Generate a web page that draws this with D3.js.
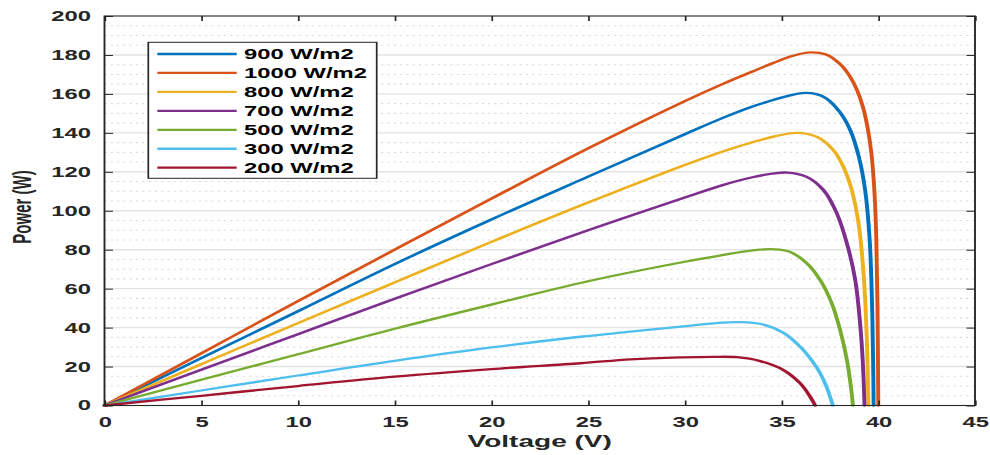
<!DOCTYPE html>
<html>
<head>
<meta charset="utf-8">
<script src="https://cdn.jsdelivr.net/npm/d3@7"></script>
<style>
  html, body { margin: 0; padding: 0; background: #fff; overflow: hidden; }
  svg text { font-family: "Liberation Sans", Arial, Helvetica, sans-serif; }
</style>
</head>
<body>
<svg id="chart" width="990" height="455"></svg>
<script>
// P-V characteristics of a PV module at several irradiance levels
const seriesLabels = ["900 W/m2", "1000 W/m2", "800 W/m2", "700 W/m2", "500 W/m2", "300 W/m2", "200 W/m2"];
const seriesColors = ["#0072BD", "#D95319", "#EDB120", "#7E2F8E", "#77AC30", "#4DBEEE", "#A2142F"];

const volt900  = [0, 5, 10, 15, 20, 25, 30, 32, 33.5, 34.6, 35.5, 36.2, 36.8, 37.3, 38.0, 38.55, 39.0, 39.32, 39.55, 39.67, 39.73, 39.76];
const power900 = [0, 24.3, 48.4, 72.6, 95.5, 117.5, 139.3, 147.8, 153.5, 157.0, 159.4, 160.5, 159.9, 157.8, 150.8, 141.4, 127.5, 110.6, 86.0, 55.0, 25.0, 0];

const volt1000  = [0, 5, 10, 15, 20, 25, 30, 32, 33.5, 34.6, 35.6, 36.5, 37.3, 38.0, 38.5, 38.9, 39.2, 39.45, 39.65, 39.8, 39.9, 39.96, 40.0];
const power1000 = [0, 26.8, 53.6, 80.0, 106.2, 132.0, 156.3, 165.3, 171.5, 176.0, 179.6, 181.3, 180.2, 175.5, 169.5, 162.0, 153.5, 142.5, 129.0, 110.0, 85.0, 50.0, 0];

const volt800  = [0, 5, 10, 15, 20, 25, 30, 32, 33.5, 34.7, 35.8, 36.83, 37.68, 38.2, 38.63, 38.98, 39.24, 39.41, 39.49];
const power800 = [0, 21.2, 42.3, 63.2, 84.0, 104.2, 123.5, 130.6, 135.2, 138.3, 140.0, 137.9, 131.1, 122.5, 110.6, 93.5, 67.8, 33.6, 0];

const volt700  = [0, 5, 10, 15, 20, 25, 30, 32, 33.5, 34.5, 35.3, 36.3, 37.17, 37.86, 38.38, 38.81, 39.06, 39.2, 39.29];
const power700 = [0, 18.4, 36.6, 54.8, 72.6, 90.0, 106.8, 113.3, 117.2, 119.0, 119.6, 117.4, 110.6, 98.6, 83.2, 64.4, 42.2, 22.5, 0];

const volt500  = [0, 5, 10, 15, 20, 25, 30, 32, 33.3, 34.4, 34.9, 35.44, 36.31, 37.0, 37.6, 38.03, 38.38, 38.58, 38.69];
const power500 = [0, 13.2, 26.3, 39.4, 51.8, 63.8, 73.8, 77.3, 79.4, 80.3, 80.0, 78.9, 73.0, 64.4, 52.4, 38.7, 23.3, 10.0, 0];

const volt300  = [0, 5, 10, 15, 20, 24.6, 27.2, 29.8, 31.5, 32.9, 34.0, 35.1, 35.96, 36.5, 37.0, 37.35, 37.65];
const power300 = [0, 7.7, 15.4, 22.9, 29.8, 35.3, 37.9, 40.5, 42.2, 42.8, 41.7, 37.3, 30.2, 24.0, 16.5, 9.0, 0];

const volt200  = [0, 5, 10, 15, 20, 24.6, 27.2, 29.8, 31.5, 32.7, 33.9, 35.1, 35.96, 36.48, 36.74];
const power200 = [0, 5.0, 10.0, 14.8, 18.7, 21.7, 23.7, 24.7, 25.0, 24.8, 22.8, 18.2, 11.4, 4.5, 0];

const xTickValues = [0, 5, 10, 15, 20, 25, 30, 35, 40, 45];
const yTickValues = [0, 20, 40, 60, 80, 100, 120, 140, 160, 180, 200];
const xTitle = "Voltage (V)";
const yTitle = "Power (W)";

const voltages = [volt900, volt1000, volt800, volt700, volt500, volt300, volt200];
const powers   = [power900, power1000, power800, power700, power500, power300, power200];
const series = seriesLabels.map((label, i) => ({
  label,
  color: seriesColors[i],
  points: voltages[i].map((v, j) => [v, powers[i][j]])
}));

// The figure is drawn in a horizontally stretched frame
const SX = 1.7;
const plotLeft = 104.5 / SX, plotRight = 975 / SX, plotTop = 16, plotBottom = 405.5;
const ink = "#262626";

const svg = d3.select("#chart");
const root = svg.append("g").attr("transform", `scale(${SX},1)`);

const x = d3.scaleLinear().domain([0, 45]).range([plotLeft, plotRight]);
const y = d3.scaleLinear().domain([0, 200]).range([plotBottom, plotTop]);

// horizontal grid: dotted minor lines and solid major lines
const minorVals = d3.range(5, 200, 5).filter(v => v % 20 !== 0);
root.append("g").selectAll("line").data(minorVals).join("line")
  .attr("x1", plotLeft).attr("x2", plotRight)
  .attr("y1", d => y(d)).attr("y2", d => y(d))
  .attr("stroke", "#d9d9d9").attr("stroke-width", 1.1)
  .attr("stroke-dasharray", "1.2,2.5");
root.append("g").selectAll("line").data(yTickValues.filter(v => v > 0 && v < 200)).join("line")
  .attr("x1", plotLeft).attr("x2", plotRight)
  .attr("y1", d => y(d)).attr("y2", d => y(d))
  .attr("stroke", "#e3e3e3").attr("stroke-width", 1.4);

// curves
const line = d3.line().x(d => x(d[0])).y(d => y(d[1])).curve(d3.curveCatmullRom.alpha(0.5));
root.append("g").selectAll("path").data(series).join("path")
  .attr("d", d => line(d.points))
  .attr("fill", "none")
  .attr("stroke", d => d.color)
  .attr("stroke-width", 2.3)
  .attr("stroke-linejoin", "round")
  .attr("stroke-linecap", "round");

// axes with inward ticks on all four sides
function styleAxis(g) {
  g.select(".domain").remove();
  g.selectAll(".tick line").attr("stroke", ink).attr("stroke-width", 1);
  g.selectAll(".tick text")
    .attr("fill", ink)
    .style("font-size", "14px")
    .style("font-weight", "bold");
}
root.append("g").attr("transform", `translate(0,${plotBottom})`)
  .call(d3.axisBottom(x).tickValues(xTickValues).tickFormat(d3.format("d"))
    .tickSizeInner(-5).tickSizeOuter(0).tickPadding(11.5))
  .call(styleAxis);
root.append("g").attr("transform", `translate(0,${plotTop})`)
  .call(d3.axisTop(x).tickValues(xTickValues).tickFormat("")
    .tickSizeInner(-5).tickSizeOuter(0))
  .call(styleAxis);
root.append("g").attr("transform", `translate(${plotLeft},0)`)
  .call(d3.axisLeft(y).tickValues(yTickValues).tickFormat(d3.format("d"))
    .tickSizeInner(-5).tickSizeOuter(0).tickPadding(8))
  .call(styleAxis);
root.append("g").attr("transform", `translate(${plotRight},0)`)
  .call(d3.axisRight(y).tickValues(yTickValues).tickFormat("")
    .tickSizeInner(-5).tickSizeOuter(0))
  .call(styleAxis);

// plot frame
root.append("rect")
  .attr("x", plotLeft).attr("y", plotTop)
  .attr("width", plotRight - plotLeft).attr("height", plotBottom - plotTop)
  .attr("fill", "none").attr("stroke", ink).attr("stroke-width", 1.1);

// axis titles
root.append("text")
  .attr("x", (plotLeft + plotRight) / 2).attr("y", 447)
  .attr("text-anchor", "middle")
  .attr("fill", ink)
  .style("font-size", "16.5px").style("font-weight", "bold")
  .text(xTitle);
root.append("text")
  .attr("transform", `translate(${30.5 / SX},207) rotate(-90)`)
  .attr("text-anchor", "middle")
  .attr("fill", ink)
  .style("font-size", "15px").style("font-weight", "bold")
  .text(yTitle);

// legend
const lgX = 148.3 / SX, lgY = 42.3, lgW = (376.7 - 148.3) / SX, lgH = 136;
const legend = root.append("g");
legend.append("rect")
  .attr("x", lgX).attr("y", lgY).attr("width", lgW).attr("height", lgH)
  .attr("fill", "#fff").attr("stroke", ink).attr("stroke-width", 1);
const rows = legend.selectAll("g.row").data(series).join("g")
  .attr("class", "row")
  .attr("transform", (d, i) => `translate(0,${54 + i * 18.95})`);
rows.append("line")
  .attr("x1", 157.3 / SX).attr("x2", 236.7 / SX)
  .attr("y1", 0).attr("y2", 0)
  .attr("stroke", d => d.color).attr("stroke-width", 2.3);
rows.append("text")
  .attr("x", 244 / SX).attr("y", 5)
  .attr("fill", "#000")
  .style("font-size", "14px").style("font-weight", "bold")
  .text(d => d.label);
</script>
</body>
</html>
